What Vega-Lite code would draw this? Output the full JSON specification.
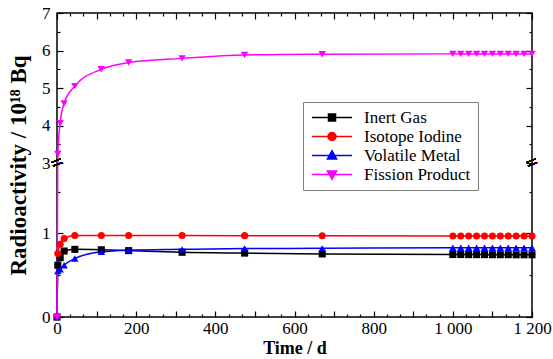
{
  "$schema": "https://vega.github.io/schema/vega-lite/v6.json",
  "width": 475,
  "height": 304,
  "autosize": {"type": "none"},
  "padding": {"left": 57, "top": 13, "right": 21, "bottom": 42},
  "background": "white",
  "config": {
    "view": {"stroke": "black", "strokeWidth": 1.5},
    "font": "Liberation Serif",
    "legend": {"labelFont": "Liberation Serif", "labelFontSize": 17, "labelColor": "black"},
    "axis": {
      "grid": false,
      "domain": false,
      "tickColor": "black",
      "tickWidth": 1.2,
      "labelColor": "black",
      "labelFont": "Liberation Serif",
      "labelFontSize": 17,
      "titleFont": "Liberation Serif",
      "titleFontSize": 18,
      "titleFontWeight": "bold",
      "titleColor": "black",
      "labelOverlap": false,
      "labelFlush": false
    },
    "point": {"filled": true, "opacity": 1, "size": 50}
  },
  "data": {
    "values": [
      {"t": 0, "v": 0, "s": "Inert Gas"},
      {"t": 2, "v": 0.62, "s": "Inert Gas"},
      {"t": 8, "v": 0.71, "s": "Inert Gas"},
      {"t": 18, "v": 0.79, "s": "Inert Gas"},
      {"t": 45, "v": 0.81, "s": "Inert Gas"},
      {"t": 112, "v": 0.805, "s": "Inert Gas"},
      {"t": 181, "v": 0.795, "s": "Inert Gas"},
      {"t": 316, "v": 0.775, "s": "Inert Gas"},
      {"t": 474, "v": 0.765, "s": "Inert Gas"},
      {"t": 670, "v": 0.755, "s": "Inert Gas"},
      {"t": 1000, "v": 0.748, "s": "Inert Gas"},
      {"t": 1020, "v": 0.748, "s": "Inert Gas"},
      {"t": 1040, "v": 0.747, "s": "Inert Gas"},
      {"t": 1060, "v": 0.747, "s": "Inert Gas"},
      {"t": 1080, "v": 0.747, "s": "Inert Gas"},
      {"t": 1100, "v": 0.746, "s": "Inert Gas"},
      {"t": 1120, "v": 0.746, "s": "Inert Gas"},
      {"t": 1140, "v": 0.746, "s": "Inert Gas"},
      {"t": 1160, "v": 0.745, "s": "Inert Gas"},
      {"t": 1180, "v": 0.745, "s": "Inert Gas"},
      {"t": 1200, "v": 0.745, "s": "Inert Gas"},
      {"t": 0, "v": 0, "s": "Isotope Iodine"},
      {"t": 2, "v": 0.76, "s": "Isotope Iodine"},
      {"t": 8, "v": 0.87, "s": "Isotope Iodine"},
      {"t": 18, "v": 0.94, "s": "Isotope Iodine"},
      {"t": 45, "v": 0.975, "s": "Isotope Iodine"},
      {"t": 112, "v": 0.976, "s": "Isotope Iodine"},
      {"t": 181, "v": 0.976, "s": "Isotope Iodine"},
      {"t": 316, "v": 0.975, "s": "Isotope Iodine"},
      {"t": 474, "v": 0.974, "s": "Isotope Iodine"},
      {"t": 670, "v": 0.972, "s": "Isotope Iodine"},
      {"t": 1000, "v": 0.97, "s": "Isotope Iodine"},
      {"t": 1020, "v": 0.97, "s": "Isotope Iodine"},
      {"t": 1040, "v": 0.97, "s": "Isotope Iodine"},
      {"t": 1060, "v": 0.97, "s": "Isotope Iodine"},
      {"t": 1080, "v": 0.97, "s": "Isotope Iodine"},
      {"t": 1100, "v": 0.97, "s": "Isotope Iodine"},
      {"t": 1120, "v": 0.97, "s": "Isotope Iodine"},
      {"t": 1140, "v": 0.97, "s": "Isotope Iodine"},
      {"t": 1160, "v": 0.97, "s": "Isotope Iodine"},
      {"t": 1180, "v": 0.97, "s": "Isotope Iodine"},
      {"t": 1200, "v": 0.97, "s": "Isotope Iodine"},
      {"t": 0, "v": 0, "s": "Volatile Metal"},
      {"t": 2, "v": 0.55, "s": "Volatile Metal"},
      {"t": 8, "v": 0.57, "s": "Volatile Metal"},
      {"t": 18, "v": 0.62, "s": "Volatile Metal"},
      {"t": 45, "v": 0.7, "s": "Volatile Metal"},
      {"t": 112, "v": 0.78, "s": "Volatile Metal"},
      {"t": 181, "v": 0.8, "s": "Volatile Metal"},
      {"t": 316, "v": 0.81, "s": "Volatile Metal"},
      {"t": 474, "v": 0.82, "s": "Volatile Metal"},
      {"t": 670, "v": 0.822, "s": "Volatile Metal"},
      {"t": 1000, "v": 0.83, "s": "Volatile Metal"},
      {"t": 1020, "v": 0.83, "s": "Volatile Metal"},
      {"t": 1040, "v": 0.83, "s": "Volatile Metal"},
      {"t": 1060, "v": 0.83, "s": "Volatile Metal"},
      {"t": 1080, "v": 0.83, "s": "Volatile Metal"},
      {"t": 1100, "v": 0.83, "s": "Volatile Metal"},
      {"t": 1120, "v": 0.83, "s": "Volatile Metal"},
      {"t": 1140, "v": 0.83, "s": "Volatile Metal"},
      {"t": 1160, "v": 0.83, "s": "Volatile Metal"},
      {"t": 1180, "v": 0.83, "s": "Volatile Metal"},
      {"t": 1200, "v": 0.83, "s": "Volatile Metal"},
      {"t": 0, "v": 0, "s": "Fission Product"},
      {"t": 2, "v": 3.24, "s": "Fission Product"},
      {"t": 8, "v": 4.06, "s": "Fission Product"},
      {"t": 18, "v": 4.59, "s": "Fission Product"},
      {"t": 45, "v": 5.05, "s": "Fission Product"},
      {"t": 112, "v": 5.5, "s": "Fission Product"},
      {"t": 181, "v": 5.68, "s": "Fission Product"},
      {"t": 316, "v": 5.79, "s": "Fission Product"},
      {"t": 474, "v": 5.88, "s": "Fission Product"},
      {"t": 670, "v": 5.9, "s": "Fission Product"},
      {"t": 1000, "v": 5.91, "s": "Fission Product"},
      {"t": 1020, "v": 5.91, "s": "Fission Product"},
      {"t": 1040, "v": 5.91, "s": "Fission Product"},
      {"t": 1060, "v": 5.91, "s": "Fission Product"},
      {"t": 1080, "v": 5.91, "s": "Fission Product"},
      {"t": 1100, "v": 5.91, "s": "Fission Product"},
      {"t": 1120, "v": 5.91, "s": "Fission Product"},
      {"t": 1140, "v": 5.91, "s": "Fission Product"},
      {"t": 1160, "v": 5.91, "s": "Fission Product"},
      {"t": 1180, "v": 5.91, "s": "Fission Product"},
      {"t": 1200, "v": 5.91, "s": "Fission Product"}
    ]
  },
  "layer": [
    {
      "mark": {"type": "line", "interpolate": "monotone", "strokeWidth": 1.5},
      "encoding": {
        "x": {
          "field": "t", "type": "quantitative",
          "scale": {"domain": [0, 1200], "nice": false, "zero": false},
          "title": "Time / d",
          "axis": {
            "orient": "bottom",
            "values": [0, 33.33, 66.67, 100, 133.33, 166.67, 200, 233.33, 266.67, 300, 333.33, 366.67, 400, 433.33, 466.67, 500, 533.33, 566.67, 600, 633.33, 666.67, 700, 733.33, 766.67, 800, 833.33, 866.67, 900, 933.33, 966.67, 1000, 1033.33, 1066.67, 1100, 1133.33, 1166.67, 1200],
            "labelExpr": "datum.value == 1000 ? '1 000' : datum.value == 1200 ? '1 200' : (datum.value % 200 == 0 ? format(datum.value, 'd') : '')",
            "tickSize": {"condition": {"test": "datum.value % 100 == 0", "value": -6}, "value": -3},
            "labelFontSize": 17,
            "labelPadding": 9,
            "titlePadding": 0
          }
        },
        "y": {
          "field": "v", "type": "quantitative",
          "scale": {"domain": [0, 1.844, 3, 7], "range": [304, 150, 150, 0], "nice": false, "zero": false},
          "title": "Radioactivity / 10¹⁸ Bq",
          "axis": {
            "orient": "left",
            "values": [0, 0.5, 1, 1.5, 3, 3.5, 4, 4.5, 5, 5.5, 6, 6.5, 7],
            "labelExpr": "datum.value % 1 == 0 ? format(datum.value, 'd') : ''",
            "tickSize": {"condition": {"test": "datum.value % 1 == 0", "value": -6}, "value": -3},
            "labelPadding": 13,
            "titlePadding": 11,
            "titleFontSize": 23
          }
        },
        "color": {
          "field": "s", "type": "nominal",
          "scale": {"domain": ["Inert Gas", "Isotope Iodine", "Volatile Metal", "Fission Product"], "range": ["black", "#ff0000", "#0000ff", "#ff00ff"]},
          "legend": {
            "orient": "none",
            "legendX": 246,
            "legendY": 89,
            "title": null,
            "strokeColor": "#7f7f7f",
            "fillColor": "white",
            "padding": 7,
            "labelFont": "Liberation Serif",
            "labelFontSize": 17,
            "labelColor": "black",
            "labelExpr": "datum.label + '   '",
            "symbolSize": 100,
            "labelOffset": 37,
            "rowPadding": 1,
            "encode": {
              "labels": {
                "update": {"font": {"value": "Liberation Serif"}, "fontSize": {"value": 17}, "fill": {"value": "black"}}
              },
              "symbols": {
                "update": {
                  "shape": {"signal": "datum.value == 'Inert Gas' ? 'M-1.3,0H6.7M2.0,-0.7H3.4V0.7H2.0Z' : datum.value == 'Isotope Iodine' ? 'M-1.3,0H6.7M1.9,0A0.8,0.8 0 1,0 3.5,0A0.8,0.8 0 1,0 1.9,0Z' : datum.value == 'Volatile Metal' ? 'M-1.3,0H6.7M2.7,-0.96L3.62,0.68L1.78,0.68Z' : 'M-1.3,0H6.7M2.7,0.96L3.62,-0.68L1.78,-0.68Z'"},
                  "size": {"value": 100},
                  "fill": {"scale": "color", "field": "value"},
                  "stroke": {"scale": "color", "field": "value"},
                  "strokeWidth": {"value": 1.5},
                  "opacity": {"value": 1}
                }
              }
            }
          }
        }
      }
    },
    {
      "transform": [{"filter": "datum.s == 'Inert Gas'"}],
      "mark": {"type": "point", "shape": "square", "color": "black"},
      "encoding": {
        "x": {
          "field": "t", "type": "quantitative",
          "axis": {
            "orient": "top",
            "values": [0, 33.33, 66.67, 100, 133.33, 166.67, 200, 233.33, 266.67, 300, 333.33, 366.67, 400, 433.33, 466.67, 500, 533.33, 566.67, 600, 633.33, 666.67, 700, 733.33, 766.67, 800, 833.33, 866.67, 900, 933.33, 966.67, 1000, 1033.33, 1066.67, 1100, 1133.33, 1166.67, 1200],
            "labels": false,
            "title": null,
            "tickSize": {"condition": {"test": "datum.value % 100 == 0", "value": -6}, "value": -3}
          }
        },
        "y": {
          "field": "v", "type": "quantitative",
          "axis": {
            "orient": "right",
            "values": [0, 0.5, 1, 1.5, 3, 3.5, 4, 4.5, 5, 5.5, 6, 6.5, 7],
            "labels": false,
            "title": null,
            "tickSize": {"condition": {"test": "datum.value % 1 == 0", "value": -6}, "value": -3}
          }
        }
      }
    },
    {
      "transform": [{"filter": "datum.s == 'Isotope Iodine'"}],
      "mark": {"type": "point", "shape": "circle", "color": "#ff0000"},
      "encoding": {
        "x": {"field": "t", "type": "quantitative", "axis": null},
        "y": {"field": "v", "type": "quantitative", "axis": null}
      }
    },
    {
      "transform": [{"filter": "datum.s == 'Volatile Metal'"}],
      "mark": {"type": "point", "shape": "triangle-up", "color": "#0000ff", "size": 55},
      "encoding": {
        "x": {"field": "t", "type": "quantitative", "axis": null},
        "y": {"field": "v", "type": "quantitative", "axis": null}
      }
    },
    {
      "transform": [{"filter": "datum.s == 'Fission Product'"}],
      "mark": {"type": "point", "shape": "triangle-down", "color": "#ff00ff", "size": 55},
      "encoding": {
        "x": {"field": "t", "type": "quantitative", "axis": null},
        "y": {"field": "v", "type": "quantitative", "axis": null}
      }
    },
    {
      "mark": {"type": "text", "text": "=", "angle": -22, "fontSize": 20, "font": "Liberation Serif", "color": "black", "align": "center", "baseline": "middle"},
      "encoding": {
        "x": {"datum": 0, "type": "quantitative", "axis": null},
        "y": {"datum": 2.4, "type": "quantitative", "axis": null}
      }
    },
    {
      "mark": {"type": "text", "text": "=", "angle": -22, "fontSize": 20, "font": "Liberation Serif", "color": "black", "align": "center", "baseline": "middle"},
      "encoding": {
        "x": {"datum": 1200, "type": "quantitative", "axis": null},
        "y": {"datum": 2.4, "type": "quantitative", "axis": null}
      }
    }
  ],
  "resolve": {"axis": {"x": "independent", "y": "independent"}}
}
